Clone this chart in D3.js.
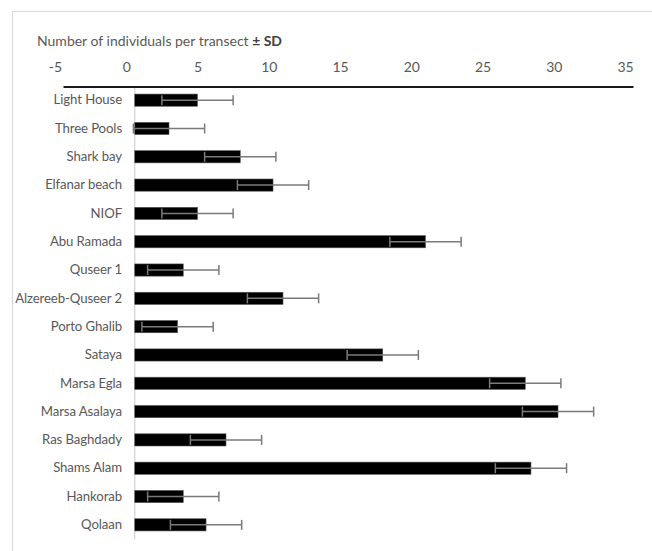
<!DOCTYPE html>
<html>
<head>
<meta charset="utf-8">
<script src="https://cdn.jsdelivr.net/npm/d3@7"></script>
<style>
  html, body { margin: 0; padding: 0; background: #fff; }
  svg { display: block; }
  text { font-family: Lato, "Open Sans", sans-serif; }
</style>
</head>
<body>
<svg id="chart" width="652" height="551"></svg>
<script>
// ---- data ----
const categories = ["Light House", "Three Pools", "Shark bay", "Elfanar beach", "NIOF", "Abu Ramada",
  "Quseer 1", "Alzereeb-Quseer 2", "Porto Ghalib", "Sataya", "Marsa Egla", "Marsa Asalaya",
  "Ras Baghdady", "Shams Alam", "Hankorab", "Qolaan"];
const means = [5, 3, 8, 10.3, 5, 21, 4, 11, 3.6, 18, 28, 30.3, 7, 28.4, 4, 5.6];
const sds = [2.5, 2.5, 2.5, 2.5, 2.5, 2.5, 2.5, 2.5, 2.5, 2.5, 2.5, 2.5, 2.5, 2.5, 2.5, 2.5];
const tickValues = [-5, 0, 5, 10, 15, 20, 25, 30, 35];
const titleMain = "Number of individuals per transect ";
const titleBold = "± SD";

// ---- layout ----
const svg = d3.select("#chart");
const W = 652, H = 551;
const FONT = "Lato, \"Open Sans\", sans-serif";
const lineShift = 8.5; // axis line / category axis drawn slightly right of the tick labels (as in source)

const x = d3.scaleLinear().domain([-5, 35]).range([55, 625]);
const y = d3.scaleBand().domain(categories).range([86, 539]).paddingInner(0.57).paddingOuter(0.285);

// outer frame (top and left edges visible)
svg.append("path")
  .attr("d", `M12.5,${H} L12.5,11.5 L${W},11.5`)
  .attr("fill", "none").attr("stroke", "#d9d9d9").attr("stroke-width", 1.2);

// title
const title = svg.append("text").attr("x", 37).attr("y", 46)
  .attr("font-size", 14).attr("fill", "#595959");
title.append("tspan").text(titleMain);
title.append("tspan").attr("font-weight", "bold").attr("fill", "#404040").text(titleBold);

// top value axis labels
const axisG = svg.append("g").attr("transform", "translate(0,72)");
const xAxis = d3.axisTop(x).tickValues(tickValues).tickSize(0).tickPadding(0).tickFormat(d => String(d));
axisG.call(xAxis);
axisG.select(".domain").remove();
axisG.selectAll("text").attr("font-size", 14).attr("fill", "#595959")
  .attr("font-family", FONT).attr("dy", 0);

// axis line
svg.append("line")
  .attr("x1", x(-5) + lineShift).attr("x2", x(35) + lineShift)
  .attr("y1", 87).attr("y2", 87)
  .attr("stroke", "#1a1a1a").attr("stroke-width", 2);

// vertical category axis line (at zero)
const base = x(0) + lineShift;
svg.append("line")
  .attr("x1", base).attr("x2", base)
  .attr("y1", 88).attr("y2", 539)
  .attr("stroke", "#d0d0d0").attr("stroke-width", 1.2);

// category labels
const catAxis = d3.axisLeft(y).tickSize(0).tickPadding(0);
const catG = svg.append("g").attr("transform", "translate(122,0)").call(catAxis);
catG.select(".domain").remove();
catG.selectAll("text").attr("font-size", 13.2).attr("fill", "#595959")
  .attr("letter-spacing", -0.1)
  .attr("font-family", FONT);

// bars
const rows = categories.map((c, i) => ({ c, m: means[i], sd: sds[i] }));
svg.append("g").selectAll("rect").data(rows).join("rect")
  .attr("x", base)
  .attr("y", d => y(d.c))
  .attr("width", d => Math.max(0, x(d.m) - base))
  .attr("height", y.bandwidth())
  .attr("fill", "#000")
  .attr("stroke", "#555").attr("stroke-width", 0.6);

// error bars
const eg = svg.append("g").attr("stroke", "#7a7a7a").attr("stroke-width", 1.5);
rows.forEach(d => {
  const cy = y(d.c) + y.bandwidth() / 2;
  const x1 = x(d.m - d.sd), x2 = x(d.m + d.sd);
  eg.append("line").attr("x1", x1).attr("x2", x2).attr("y1", cy).attr("y2", cy);
  eg.append("line").attr("x1", x1).attr("x2", x1).attr("y1", cy - 5).attr("y2", cy + 5);
  eg.append("line").attr("x1", x2).attr("x2", x2).attr("y1", cy - 5).attr("y2", cy + 5);
});
</script>
</body>
</html>
